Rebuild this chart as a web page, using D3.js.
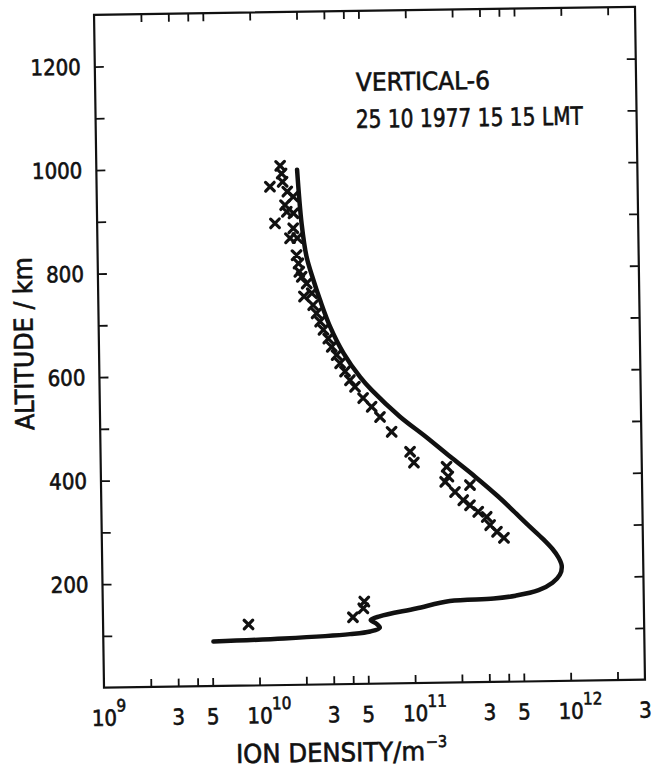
<!DOCTYPE html>
<html lang="en">
<head>
<meta charset="UTF-8">
<title>VERTICAL-6 ion density profile</title>
<script src="https://d3js.org/d3.v7.min.js"></script>
<style>
  body { margin: 0; background: white; }
  svg { display: block; }
  text { font-family: "DejaVu Sans Condensed", "DejaVu Sans", sans-serif; fill: #111; stroke: #111; stroke-width: 0.6px; }
</style>
</head>
<body>
<svg id="chart" width="654" height="769"></svg>
<script>
// model profile (altitude km, ion density m^-3), bottom to top
const curveAlt = [86, 90, 96.5, 101, 108, 116, 123, 130, 144, 157.5, 161, 166, 176, 190, 205, 222, 238, 255,
                  275, 299, 330, 358, 397, 436, 476, 515, 567, 593, 639, 691, 743, 782, 827, 891, 995];
const curveDensity = [5.1e9, 1.45e10, 3.85e10, 5.2e10, 6.0e10, 5.7e10, 5.25e10, 6.0e10, 1.03e11, 1.70e11,
                      3.26e11, 4.51e11, 6.34e11, 7.80e11, 8.71e11, 8.98e11, 8.59e11, 7.86e11, 6.83e11, 5.64e11,
                      4.44e11, 3.56e11, 2.54e11, 1.77e11, 1.23e11, 8.47e10, 5.61e10, 4.73e10, 3.73e10, 3.07e10,
                      2.66e10, 2.42e10, 2.2e10, 2.06e10, 1.95e10];

// measured points
const crossAlt = [1003, 988, 972, 963, 953, 943, 927, 914, 911, 892, 882, 863, 863, 830, 814, 798, 788, 775,
                  750, 756, 733, 717, 701, 685, 668, 652, 636, 620, 604, 587, 574, 552, 535, 515, 486,
                  447, 426, 417, 398, 388, 368, 381, 352, 342, 329, 319, 303, 290, 278,
                  118, 129, 146, 159];
const crossDensity = [1.52e10, 1.55e10, 1.57e10, 1.30e10, 1.68e10, 1.83e10, 1.62e10, 1.66e10, 1.83e10, 1.39e10,
                      1.82e10, 1.73e10, 1.93e10, 1.90e10, 1.95e10, 1.97e10, 2.04e10, 2.19e10, 2.10e10, 2.36e10,
                      2.40e10, 2.52e10, 2.65e10, 2.78e10, 2.98e10, 3.13e10, 3.36e10, 3.53e10, 3.79e10, 4.07e10,
                      4.38e10, 4.93e10, 5.58e10, 6.30e10, 7.46e10,
                      9.76e10, 1.03e11, 1.67e11, 1.71e11, 1.63e11, 1.88e11, 2.35e11, 2.12e11, 2.34e11, 2.64e11,
                      2.99e11, 3.14e11, 3.47e11, 3.84e11,
                      8.6e9, 4.04e10, 4.72e10, 4.80e10];

// axis ticks and labels
const xTicks = [2e9, 3e9, 4e9, 5e9, 1e10, 2e10, 3e10, 4e10, 5e10, 1e11, 2e11, 3e11, 4e11, 5e11, 1e12, 2e12];
const xLabelValues = [1e9, 3e9, 5e9, 1e10, 3e10, 5e10, 1e11, 3e11, 5e11, 1e12, 3e12];
const xLabelText = ["10", "3", "5", "10", "3", "5", "10", "3", "5", "10", "3"];
const xLabelExp = ["9", "", "", "10", "", "", "11", "", "", "12", ""];
const yTicks = [100, 200, 300, 400, 500, 600, 700, 800, 900, 1000, 1100, 1200];
const yLabelValues = [200, 400, 600, 800, 1000, 1200];

const W = 654, H = 769;
const m = {left: 99, right: 640, top: 10.75, bottom: 683.75};

const x = d3.scaleLog().domain([1e9, 3e12]).range([m.left, m.right]);
const y = d3.scaleLinear().domain([0, 1300]).range([m.bottom, m.top]);

const svg = d3.select("#chart");
svg.append("rect").attr("width", W).attr("height", H).attr("fill", "white");

// the scanned figure sits slightly tilted
const g = svg.append("g").attr("transform", "rotate(-0.85,369.5,347.25)");

function styleAxis(sel) {
    sel.select(".domain").remove();
    sel.selectAll(".tick line").attr("stroke", "#111").attr("stroke-width", 1.8);
}

g.append("g").attr("transform", `translate(0,${m.bottom})`)
    .call(d3.axisBottom(x).tickValues(xTicks).tickSize(-8).tickFormat(""))
    .call(styleAxis);
g.append("g").attr("transform", `translate(0,${m.top})`)
    .call(d3.axisTop(x).tickValues(xTicks).tickSize(-8).tickFormat(""))
    .call(styleAxis);
g.append("g").attr("transform", `translate(${m.left},0)`)
    .call(d3.axisLeft(y).tickValues(yTicks).tickSize(-9).tickFormat(""))
    .call(styleAxis);
g.append("g").attr("transform", `translate(${m.right},0)`)
    .call(d3.axisRight(y).tickValues(yTicks).tickSize(-9).tickFormat(""))
    .call(styleAxis);

g.append("rect")
    .attr("x", m.left).attr("y", m.top)
    .attr("width", m.right - m.left).attr("height", m.bottom - m.top)
    .attr("fill", "none").attr("stroke", "#111").attr("stroke-width", 2.2);

// x tick labels
xLabelValues.forEach((v, i) => {
    g.append("text")
        .attr("x", x(v)).attr("y", m.bottom + 38)
        .attr("text-anchor", "middle").attr("font-size", 22)
        .text(xLabelText[i]);
    if (xLabelExp[i]) {
        g.append("text")
            .attr("x", x(v) + 12).attr("y", m.bottom + 24)
            .attr("font-size", 17)
            .text(xLabelExp[i]);
    }
});

// y tick labels
g.selectAll(".ylab").data(yLabelValues).join("text")
    .attr("class", "ylab")
    .attr("x", m.left - 14).attr("y", d => y(d) + 8)
    .attr("text-anchor", "end").attr("font-size", 22)
    .text(d => d);

// axis titles
g.append("text")
    .attr("x", 230).attr("y", 761)
    .attr("font-size", 26)
    .attr("textLength", 189).attr("lengthAdjust", "spacingAndGlyphs")
    .text("ION DENSITY/m");
g.append("text")
    .attr("x", 420).attr("y", 748)
    .attr("font-size", 16)
    .text("−3");

g.append("text")
    .attr("transform", "translate(33,338.5) rotate(-90)")
    .attr("text-anchor", "middle").attr("font-size", 26)
    .attr("textLength", 173).attr("lengthAdjust", "spacingAndGlyphs")
    .text("ALTITUDE / km");

// annotation
g.append("text")
    .attr("x", 359.8).attr("y", 90.8).attr("font-size", 25)
    .attr("textLength", 134).attr("lengthAdjust", "spacingAndGlyphs")
    .text("VERTICAL-6");
g.append("text")
    .attr("x", 359.2).attr("y", 127.8).attr("font-size", 25)
    .attr("textLength", 227).attr("lengthAdjust", "spacingAndGlyphs")
    .text("25 10 1977 15 15 LMT");

// model curve
const line = d3.line()
    .x(i => x(curveDensity[i]))
    .y(i => y(curveAlt[i]))
    .curve(d3.curveCatmullRom.alpha(0.5));

g.append("path")
    .attr("d", line(d3.range(curveAlt.length)))
    .attr("fill", "none").attr("stroke", "#111")
    .attr("stroke-width", 4.5).attr("stroke-linecap", "round").attr("stroke-linejoin", "round");

// measured crosses
g.selectAll(".cross").data(d3.range(crossAlt.length)).join("path")
    .attr("class", "cross")
    .attr("transform", i => `translate(${x(crossDensity[i])},${y(crossAlt[i])})`)
    .attr("d", "M-4.3,-4.3L4.3,4.3M-4.3,4.3L4.3,-4.3")
    .attr("stroke", "#111").attr("stroke-width", 3.2).attr("stroke-linecap", "round");
</script>
</body>
</html>
